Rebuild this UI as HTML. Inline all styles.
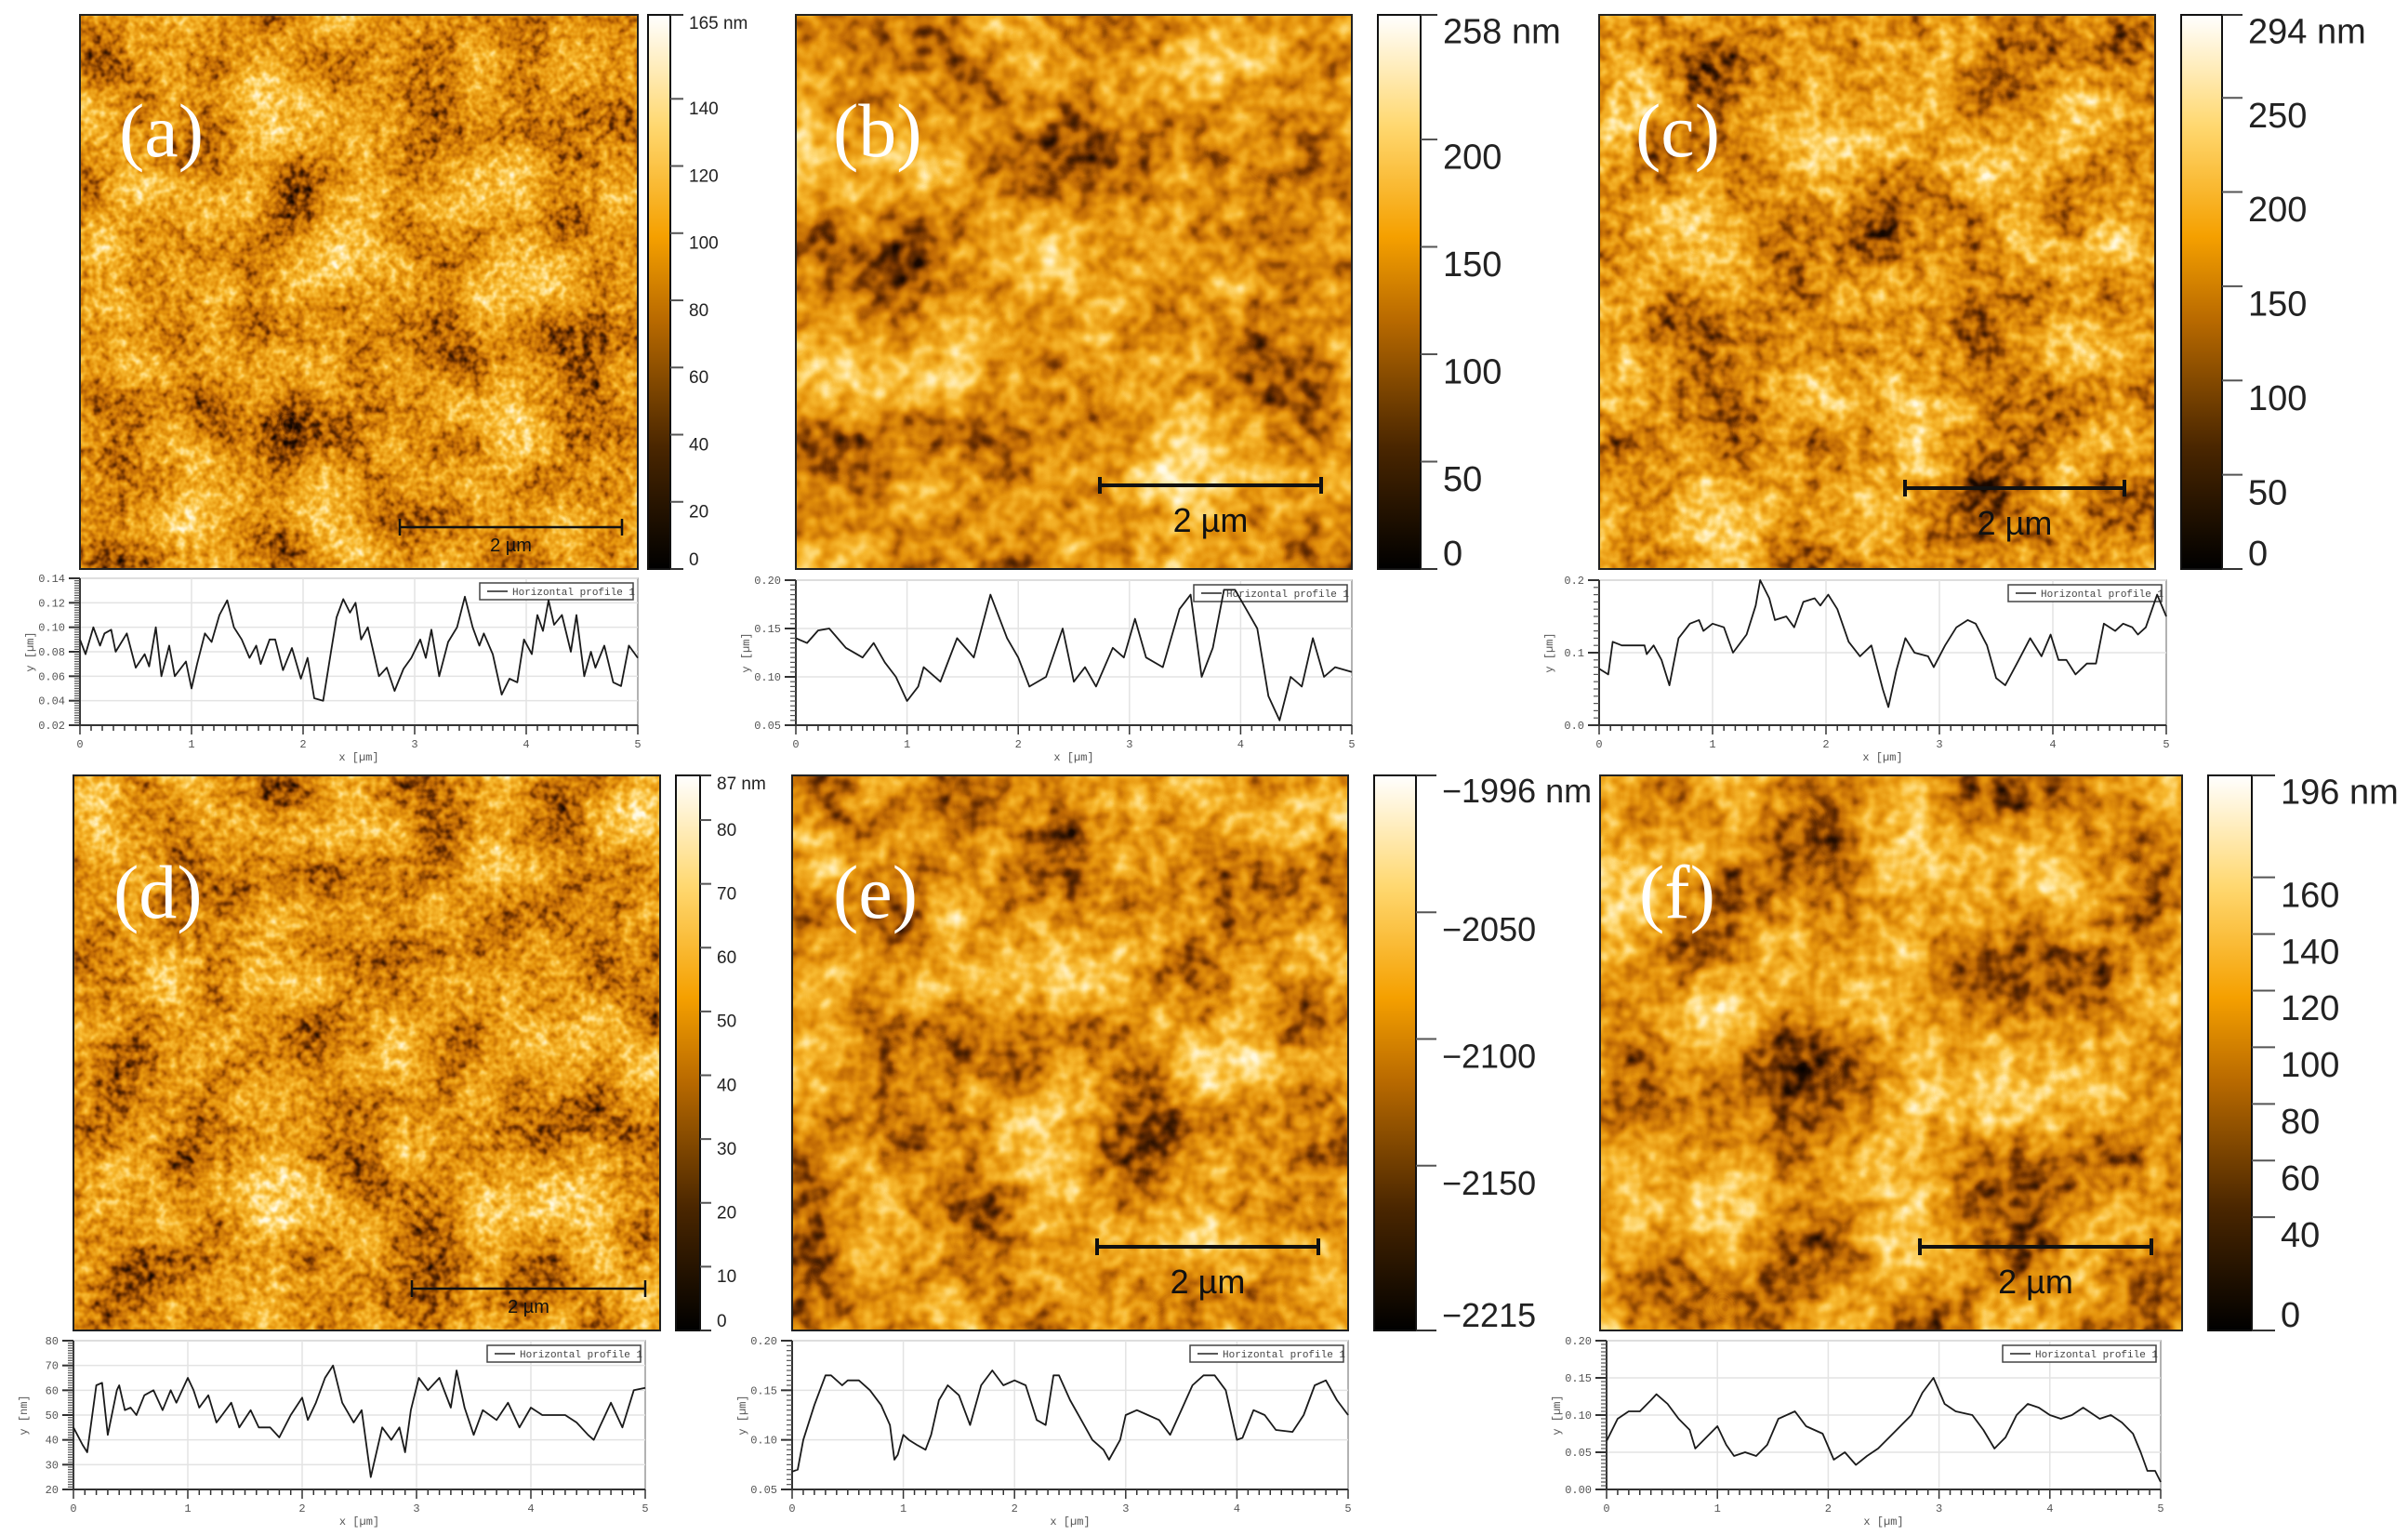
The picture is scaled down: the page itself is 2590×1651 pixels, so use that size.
<!DOCTYPE html>
<html><head><meta charset="utf-8">
<style>
html,body{margin:0;padding:0;background:#fff;}
svg{display:block;font-family:"Liberation Sans",sans-serif;}
</style></head>
<body>
<svg id="fig" width="2590" height="1651" viewBox="0 0 2590 1651" xmlns="http://www.w3.org/2000/svg">
<defs>
<linearGradient id="cbgrad" x1="0" y1="1" x2="0" y2="0">
<stop offset="0" stop-color="#000"/>
<stop offset="0.22" stop-color="#4a2600"/>
<stop offset="0.45" stop-color="#b96a00"/>
<stop offset="0.6" stop-color="#f5a000"/>
<stop offset="0.8" stop-color="#ffd870"/>
<stop offset="1" stop-color="#fff"/>
</linearGradient>
</defs>
<g id="panels"></g>
<g id="profiles"></g>
</svg>
<script>
// ---------- profile data (x in µm, y in profile units) ----------
const xs_a=[0,0.05,0.12,0.18,0.22,0.28,0.32,0.42,0.5,0.58,0.62,0.68,0.73,0.8,0.85,0.95,1.0,1.05,1.12,1.18,1.25,1.32,1.38,1.45,1.52,1.58,1.62,1.7,1.75,1.82,1.9,1.98,2.04,2.1,2.18,2.25,2.3,2.36,2.42,2.47,2.52,2.58,2.68,2.75,2.82,2.9,2.97,3.05,3.1,3.15,3.22,3.3,3.38,3.45,3.52,3.58,3.62,3.7,3.78,3.85,3.92,3.98,4.05,4.1,4.15,4.2,4.25,4.32,4.4,4.45,4.52,4.58,4.62,4.7,4.78,4.85,4.92,5.0];
const ys_a=[0.09,0.078,0.1,0.085,0.095,0.098,0.08,0.095,0.067,0.078,0.068,0.1,0.06,0.085,0.06,0.072,0.05,0.07,0.095,0.088,0.11,0.122,0.1,0.09,0.075,0.085,0.07,0.09,0.09,0.065,0.083,0.058,0.075,0.042,0.04,0.08,0.108,0.123,0.112,0.12,0.09,0.1,0.06,0.067,0.048,0.066,0.075,0.09,0.075,0.098,0.06,0.088,0.1,0.125,0.1,0.085,0.095,0.078,0.045,0.058,0.055,0.09,0.078,0.11,0.097,0.122,0.102,0.11,0.08,0.11,0.06,0.08,0.067,0.085,0.055,0.052,0.085,0.075];
const xs_b=[0,0.1,0.2,0.3,0.45,0.6,0.7,0.8,0.9,1.0,1.1,1.15,1.3,1.45,1.6,1.75,1.9,2.0,2.1,2.25,2.4,2.5,2.6,2.7,2.85,2.95,3.05,3.15,3.3,3.45,3.55,3.65,3.75,3.85,3.95,4.05,4.15,4.25,4.35,4.45,4.55,4.65,4.75,4.85,5.0];
const ys_b=[0.14,0.135,0.148,0.15,0.13,0.12,0.135,0.115,0.1,0.075,0.09,0.11,0.095,0.14,0.12,0.185,0.14,0.12,0.09,0.1,0.15,0.095,0.11,0.09,0.13,0.12,0.16,0.12,0.11,0.17,0.185,0.1,0.13,0.19,0.19,0.17,0.15,0.08,0.055,0.1,0.09,0.14,0.1,0.11,0.105];
const xs_c=[0,0.08,0.12,0.2,0.3,0.4,0.42,0.48,0.55,0.62,0.7,0.8,0.88,0.92,1.0,1.1,1.18,1.3,1.38,1.42,1.5,1.55,1.65,1.72,1.8,1.9,1.95,2.02,2.1,2.2,2.3,2.4,2.5,2.55,2.62,2.7,2.78,2.9,2.95,3.05,3.15,3.25,3.32,3.42,3.5,3.58,3.7,3.8,3.9,3.98,4.05,4.12,4.2,4.3,4.38,4.45,4.55,4.62,4.7,4.75,4.82,4.92,5.0];
const ys_c=[0.078,0.07,0.115,0.11,0.11,0.11,0.098,0.11,0.09,0.055,0.12,0.14,0.145,0.13,0.14,0.135,0.1,0.125,0.165,0.2,0.175,0.145,0.15,0.135,0.17,0.175,0.165,0.18,0.16,0.115,0.095,0.11,0.05,0.025,0.075,0.12,0.1,0.095,0.08,0.11,0.135,0.145,0.14,0.11,0.065,0.055,0.09,0.12,0.095,0.125,0.09,0.09,0.07,0.085,0.085,0.14,0.13,0.14,0.135,0.125,0.135,0.18,0.15];
const xs_d=[0,0.08,0.12,0.2,0.25,0.3,0.38,0.4,0.45,0.5,0.55,0.62,0.7,0.78,0.85,0.9,1.0,1.05,1.1,1.18,1.25,1.3,1.38,1.45,1.55,1.62,1.72,1.8,1.9,2.0,2.05,2.12,2.2,2.27,2.35,2.45,2.52,2.6,2.7,2.78,2.85,2.9,2.95,3.02,3.1,3.2,3.3,3.35,3.42,3.5,3.58,3.7,3.8,3.9,4.0,4.1,4.2,4.3,4.4,4.5,4.55,4.6,4.7,4.8,4.9,5.0];
const ys_d=[45,38,35,62,63,42,60,62,52,53,50,58,60,52,60,55,65,60,53,58,47,50,55,45,52,45,45,41,50,57,48,55,65,70,55,47,52,25,45,40,45,35,52,65,60,65,53,68,53,42,52,48,55,45,53,50,50,50,47,42,40,45,55,45,60,61];
const xs_e=[0,0.05,0.1,0.2,0.3,0.35,0.45,0.5,0.6,0.7,0.8,0.88,0.92,0.95,1.0,1.05,1.12,1.2,1.25,1.32,1.4,1.5,1.6,1.7,1.8,1.9,2.0,2.1,2.2,2.28,2.35,2.4,2.5,2.6,2.7,2.8,2.85,2.95,3.0,3.1,3.2,3.3,3.4,3.5,3.6,3.7,3.8,3.9,4.0,4.05,4.15,4.25,4.35,4.5,4.6,4.7,4.8,4.9,5.0];
const ys_e=[0.068,0.07,0.1,0.135,0.165,0.165,0.155,0.16,0.16,0.15,0.135,0.115,0.08,0.085,0.105,0.1,0.095,0.09,0.105,0.14,0.155,0.145,0.115,0.155,0.17,0.155,0.16,0.155,0.12,0.115,0.165,0.165,0.14,0.12,0.1,0.09,0.08,0.1,0.125,0.13,0.125,0.12,0.105,0.13,0.155,0.165,0.165,0.15,0.1,0.102,0.13,0.125,0.11,0.108,0.125,0.155,0.16,0.14,0.125];
const xs_f=[0,0.1,0.2,0.3,0.4,0.45,0.55,0.65,0.75,0.8,0.9,1.0,1.08,1.15,1.25,1.35,1.45,1.55,1.7,1.8,1.95,2.05,2.15,2.25,2.35,2.45,2.55,2.65,2.75,2.85,2.95,3.05,3.15,3.3,3.4,3.5,3.6,3.7,3.8,3.9,4.0,4.1,4.2,4.3,4.45,4.55,4.65,4.75,4.82,4.88,4.95,5.0];
const ys_f=[0.065,0.095,0.105,0.105,0.12,0.128,0.115,0.095,0.08,0.055,0.07,0.085,0.06,0.045,0.05,0.045,0.06,0.095,0.105,0.085,0.075,0.04,0.05,0.033,0.045,0.055,0.07,0.085,0.1,0.13,0.15,0.115,0.105,0.1,0.08,0.055,0.07,0.1,0.115,0.11,0.1,0.095,0.1,0.11,0.095,0.1,0.09,0.075,0.05,0.025,0.025,0.01];
// axis tick labels
const yticks_a=["0.02","0.04","0.06","0.08","0.10","0.12","0.14"];
const yticks_b=["0.05","0.10","0.15","0.20"];
const yticks_c=["0.0","0.1","0.2"];
const yticks_d=["20","30","40","50","60","70","80"];
const yticks_e=["0.05","0.10","0.15","0.20"];
const yticks_f=["0.00","0.05","0.10","0.15","0.20"];
const xticks=["0","1","2","3","4","5"];
// colorbar tick values
const cb_a=[140,120,100,80,60,40,20,0];
const cb_b=[200,150,100,50,0];
const cb_c=[250,200,150,100,50,0];
const cb_d=[80,70,60,50,40,30,20,10,0];
const cb_e=[-2050,-2100,-2150,-2215];
const cb_f=[160,140,120,100,80,60,40,0];

const NS="http://www.w3.org/2000/svg";
function mk(tag,attrs,parent){const e=document.createElementNS(NS,tag);for(const k in attrs)e.setAttribute(k,attrs[k]);parent.appendChild(e);return e;}

const panelsG=document.getElementById('panels');
const defs=document.querySelector('defs');
const GRAY='1 0 0 0 0 1 0 0 0 0 1 0 0 0 0 0 0 0 0 1';

function afmPanel(id,box,freq,seed,cb,cbMin,cbMax,topLabel,cbFont,label,scale){
  const f=mk('filter',{id:'flt_'+id,'color-interpolation-filters':'sRGB',filterUnits:'userSpaceOnUse'},defs);
  f.setAttribute('x',box.x);f.setAttribute('y',box.y);f.setAttribute('width',box.w);f.setAttribute('height',box.h);
  mk('feTurbulence',{type:'fractalNoise',baseFrequency:freq[0],numOctaves:2,seed:seed,result:'big0'},f);
  mk('feColorMatrix',{in:'big0',type:'matrix',values:GRAY,result:'big'},f);
  mk('feTurbulence',{type:'fractalNoise',baseFrequency:freq[1],numOctaves:2,seed:seed+7,result:'fine0'},f);
  mk('feColorMatrix',{in:'fine0',type:'matrix',values:GRAY,result:'fine'},f);
  mk('feComposite',{in:'big',in2:'fine',operator:'arithmetic',k1:0,k2:0.62,k3:0.45,k4:-0.035,result:'mix'},f);
  mk('feColorMatrix',{in:'mix',type:'matrix',values:GRAY,result:'mix2'},f);
  const ct=mk('feComponentTransfer',{in:'mix2'},f);
  mk('feFuncR',{type:'table',tableValues:'0 0 0.12 0.45 0.76 0.9 0.97 1 1 1 1'},ct);
  mk('feFuncG',{type:'table',tableValues:'0 0 0.04 0.2 0.42 0.58 0.72 0.86 0.97 1 1'},ct);
  mk('feFuncB',{type:'table',tableValues:'0 0 0 0 0.02 0.05 0.18 0.48 0.85 1 1'},ct);
  mk('feFuncA',{type:'table',tableValues:'1 1'},ct);

  const g=mk('g',{},panelsG);
  
  
  const img=mk('rect',{x:box.x,y:box.y,width:box.w,height:box.h,fill:'#e89a10',filter:'url(#flt_'+id+')'},g);
  
  
  mk('rect',{x:box.x,y:box.y,width:box.w,height:box.h,fill:'none',stroke:'#222','stroke-width':2},g);
  const t=mk('text',{x:label[0],y:label[1],fill:'#fff','font-family':'"Liberation Serif",serif','font-size':82},g);
  t.textContent='('+id+')';
  
  
  const sb=mk('g',{stroke:'#111','stroke-width':scale.big?4:2.5},g);
  
  
  mk('line',{x1:scale.x1,y1:scale.y,x2:scale.x2,y2:scale.y},sb);
  mk('line',{x1:scale.x1,y1:scale.y-9,x2:scale.x1,y2:scale.y+9},sb);
  mk('line',{x1:scale.x2,y1:scale.y-9,x2:scale.x2,y2:scale.y+9},sb);
  const st=mk('text',{x:(scale.x1+scale.x2)/2,y:scale.y+(scale.big?50:26),'text-anchor':'middle','font-size':scale.big?36:20,fill:'#111'},g);
  st.textContent='2 µm';
  
  
  const cg=mk('g',{},g);
  
  
  mk('rect',{x:cb.x,y:box.y,width:cb.w,height:box.h,fill:'url(#cbgrad)',stroke:'#111','stroke-width':2},cg);
  mk('line',{x1:cb.x+cb.w,y1:box.y,x2:cb.x+cb.w+cb.t,y2:box.y,stroke:'#333','stroke-width':2},cg);
  mk('line',{x1:cb.x+cb.w,y1:box.y+box.h,x2:cb.x+cb.w+cb.t,y2:box.y+box.h,stroke:'#333','stroke-width':2},cg);
  const yv=v=>box.y+(cbMax-v)/(cbMax-cbMin)*box.h;
  const lx=cb.x+cb.w+cb.t+6;
  const off=cbFont>30?18:10;
  const tl=mk('text',{x:lx,y:box.y+cbFont*0.8,'font-size':cbFont,fill:'#222'},cg);
  tl.textContent=topLabel;
  
  
  cb.vals.forEach(v=>{
    const y=yv(v);
    if(v!==cbMin) mk('line',{x1:cb.x+cb.w,y1:y,x2:cb.x+cb.w+cb.t,y2:y,stroke:'#555','stroke-width':2},cg);
    const ly=Math.min(y+cbFont*0.36+off,box.y+box.h-4);
    const tt=mk('text',{x:lx,y:ly,'font-size':cbFont,fill:'#222'},cg);
    tt.textContent=(v<0?'−'+Math.abs(v):String(v));
    
    
  });
}

afmPanel('a',{x:86,y:16,w:600,h:596},[0.012,0.11],3,{x:697,w:24,t:14,vals:cb_a},0,165,'165 nm',19,[128,168],{x1:430,x2:669,y:567,big:false});
afmPanel('b',{x:856,y:16,w:598,h:596},[0.009,0.05],11,{x:1482,w:46,t:18,vals:cb_b},0,258,'258 nm',38,[896,168],{x1:1183,x2:1421,y:522,big:true});
afmPanel('c',{x:1720,y:16,w:598,h:596},[0.01,0.07],21,{x:2346,w:44,t:22,vals:cb_c},0,294,'294 nm',38,[1759,168],{x1:2049,x2:2285,y:525,big:true});
afmPanel('d',{x:79,y:834,w:631,h:597},[0.012,0.1],31,{x:727,w:26,t:12,vals:cb_d},0,87,'87 nm',19,[122,987],{x1:443,x2:694,y:1386,big:false});
afmPanel('e',{x:852,y:834,w:598,h:597},[0.011,0.055],41,{x:1478,w:45,t:22,vals:cb_e},-2215,-1996,'−1996 nm',36,[896,987],{x1:1180,x2:1418,y:1341,big:true});
afmPanel('f',{x:1721,y:834,w:626,h:597},[0.009,0.055],51,{x:2375,w:47,t:25,vals:cb_f},0,196,'196 nm',38,[1763,987],{x1:2065,x2:2314,y:1341,big:true});

// ---------- profiles ----------
const profG=document.getElementById('profiles');
function profile(id,box,xs,ys,yticks,ylab){
  const g=mk('g',{},profG);
  
  
  const ymin=parseFloat(yticks[0]),ymax=parseFloat(yticks[yticks.length-1]);
  const sx=v=>box.x+v/5*box.w;
  const sy=v=>box.y+box.h-(v-ymin)/(ymax-ymin)*box.h;
  mk('rect',{x:box.x,y:box.y,width:box.w,height:box.h,fill:'#fff',stroke:'#999','stroke-width':1.5},g);
  xticks.forEach(t=>{const v=+t;if(v>0&&v<5)mk('line',{x1:sx(v),y1:box.y,x2:sx(v),y2:box.y+box.h,stroke:'#e3e3e3','stroke-width':1.5},g);});
  yticks.forEach(t=>{const v=parseFloat(t);mk('line',{x1:box.x,y1:sy(v),x2:box.x+box.w,y2:sy(v),stroke:'#e3e3e3','stroke-width':1.5},g);});
  mk('line',{x1:box.x,y1:box.y,x2:box.x,y2:box.y+box.h,stroke:'#333','stroke-width':2},g);
  mk('line',{x1:box.x,y1:box.y+box.h,x2:box.x+box.w,y2:box.y+box.h,stroke:'#333','stroke-width':2},g);
  const step=(ymax-ymin)/(yticks.length-1);
  for(let i=0;i<yticks.length;i++){
    const v=parseFloat(yticks[i]);
    mk('line',{x1:box.x-12,y1:sy(v),x2:box.x,y2:sy(v),stroke:'#333','stroke-width':2},g);
    if(i<yticks.length-1)for(let k=1;k<10;k++){const y=sy(v+step*k/10);mk('line',{x1:box.x-6,y1:y,x2:box.x,y2:y,stroke:'#555','stroke-width':1.2},g);}
    const tt=mk('text',{x:box.x-16,y:sy(v)+4,'text-anchor':'end','font-size':12,'font-family':'"Liberation Mono",monospace',fill:'#555'},g);
    tt.textContent=yticks[i];
    
    
  }
  for(let i=0;i<=50;i++){const v=i/10;mk('line',{x1:sx(v),y1:box.y+box.h,x2:sx(v),y2:box.y+box.h+(i%10===0?10:6),stroke:'#333','stroke-width':1.5},g);}
  xticks.forEach(t=>{
    const tt=mk('text',{x:sx(+t),y:box.y+box.h+24,'text-anchor':'middle','font-size':12,'font-family':'"Liberation Mono",monospace',fill:'#555'},g);
    tt.textContent=t;
    
    
  });
  const xl=mk('text',{x:box.x+box.w/2,y:box.y+box.h+38,'text-anchor':'middle','font-size':12,'font-family':'"Liberation Mono",monospace',fill:'#555'},g);
  xl.textContent='x [µm]';
  
  
  const yl=mk('text',{x:0,y:0,'text-anchor':'middle','font-size':12,'font-family':'"Liberation Mono",monospace',fill:'#555',transform:'translate('+(box.x-50)+','+(box.y+box.h/2)+') rotate(-90)'},g);
  yl.textContent=ylab;
  
  
  const lg=mk('g',{},g);
  
  
  mk('rect',{x:box.x+box.w-170,y:box.y+5,width:165,height:18,fill:'#fff',stroke:'#444','stroke-width':1.5},lg);
  mk('line',{x1:box.x+box.w-162,y1:box.y+14,x2:box.x+box.w-140,y2:box.y+14,stroke:'#222','stroke-width':1.5},lg);
  const lt=mk('text',{x:box.x+box.w-135,y:box.y+18,'font-size':11,'font-family':'"Liberation Mono",monospace',fill:'#444'},lg);
  lt.textContent='Horizontal profile 1';
  let d='';
  xs.forEach((x,i)=>{d+=(i?'L':'M')+sx(x).toFixed(1)+','+sy(ys[i]).toFixed(1);});
  const p=mk('path',{d:d,fill:'none',stroke:'#1a1a1a','stroke-width':1.8,'stroke-linejoin':'round'},g);
  
  
}
profile('a',{x:86,y:622,w:600,h:158},xs_a,ys_a,yticks_a,'y [µm]');
profile('b',{x:856,y:624,w:598,h:156},xs_b,ys_b,yticks_b,'y [µm]');
profile('c',{x:1720,y:624,w:610,h:156},xs_c,ys_c,yticks_c,'y [µm]');
profile('d',{x:79,y:1442,w:615,h:160},xs_d,ys_d,yticks_d,'y [nm]');
profile('e',{x:852,y:1442,w:598,h:160},xs_e,ys_e,yticks_e,'y [µm]');
profile('f',{x:1728,y:1442,w:596,h:160},xs_f,ys_f,yticks_f,'y [µm]');
</script>
</body></html>
